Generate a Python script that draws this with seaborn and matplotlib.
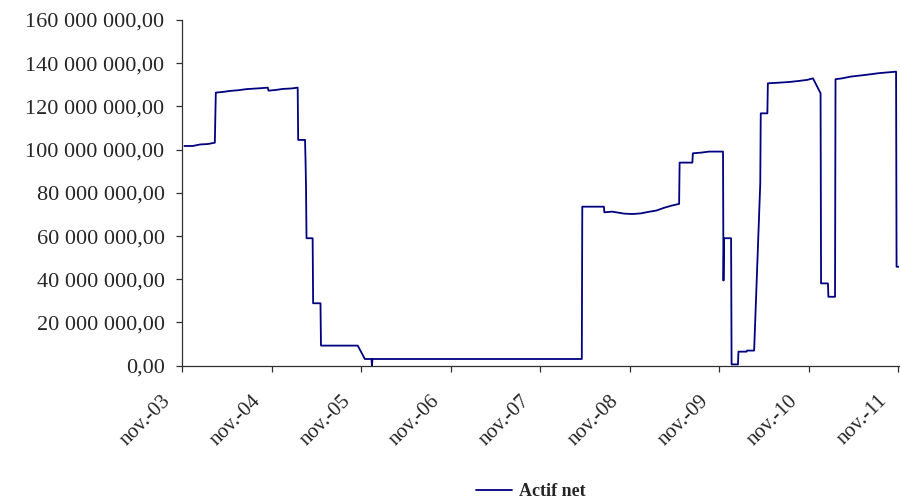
import pandas as pd
import numpy as np
import matplotlib
matplotlib.use("Agg")
import matplotlib.pyplot as plt
import matplotlib.transforms as mtransforms
from matplotlib.ticker import FuncFormatter, MultipleLocator
import seaborn as sns

# -- data (net asset value, millions of euros)
dates = [
    "2003-11-11", "2003-12-15", "2004-01-14", "2004-02-14", "2004-03-14",
    "2004-03-18", "2004-04-15", "2004-05-17", "2004-06-18", "2004-07-20",
    "2004-09-12", "2004-10-16", "2004-10-19", "2004-11-16", "2004-12-16",
    "2005-01-19", "2005-02-15", "2005-02-17", "2005-03-17", "2005-03-19",
    "2005-03-21", "2005-03-23", "2005-04-17", "2005-04-19", "2005-05-19",
    "2005-05-21", "2005-10-18", "2005-11-16", "2005-12-13", "2005-12-15",
    "2005-12-17", "2008-04-19", "2008-04-21", "2008-07-18", "2008-07-20",
    "2008-08-21", "2008-10-08", "2008-11-11", "2008-12-16", "2009-01-16",
    "2009-02-17", "2009-03-21", "2009-04-21", "2009-05-21", "2009-05-23",
    "2009-07-14", "2009-07-16", "2009-08-17", "2009-09-20", "2009-11-16",
    "2009-11-18", "2009-11-20", "2009-12-19", "2009-12-21", "2010-01-16",
    "2010-01-18", "2010-02-20", "2010-02-22", "2010-03-23", "2010-04-17",
    "2010-04-19", "2010-05-16", "2010-05-18", "2010-06-19", "2010-08-12",
    "2010-09-22", "2010-10-26", "2010-11-18", "2010-12-19", "2010-12-21",
    "2011-01-18", "2011-01-20", "2011-02-16", "2011-02-18", "2011-03-17",
    "2011-04-21", "2011-06-21", "2011-08-14", "2011-10-23", "2011-10-25",
    "2011-11-03",
]
actif_net_millions = [
    101.7, 101.7, 102.4, 102.6, 103.2,
    126.4, 126.7, 127.2, 127.5, 128.0,
    128.4, 128.7, 127.3, 127.6, 128.1,
    128.3, 128.7, 104.5, 104.5, 95.2,
    82.9, 59.0, 59.0, 28.9, 28.9,
    9.3, 9.3, 3.1, 3.1, 0.1,
    3.1, 3.1, 73.6, 73.6, 71.0,
    71.3, 70.4, 70.2, 70.5, 71.2,
    71.8, 73.1, 74.1, 74.9, 94.0,
    94.0, 98.3, 98.6, 99.1, 99.1,
    39.4, 59.0, 59.0, 0.6, 0.6,
    6.5, 6.5, 7.0, 7.0, 84.4,
    116.8, 116.8, 130.7, 130.9, 131.3,
    131.8, 132.3, 133.0, 126.1, 38.1,
    38.1, 31.9, 31.9, 132.6, 133.0,
    133.8, 134.6, 135.4, 136.1, 45.8,
    45.8,
]
series_label = "Actif net"
tick_years = list(range(2003, 2012))

df = pd.DataFrame({
    "date": pd.to_datetime(dates),
    "actif": np.array(actif_net_millions) * 1e6,
})

sns.set_style("white")
plt.rcParams["font.family"] = ["Liberation Serif", "DejaVu Serif"]

fig = plt.figure(figsize=(9, 5.04), dpi=100)
ax = fig.add_axes([0.2022, 0.2744, 0.7967, 0.6859])

sns.lineplot(data=df, x="date", y="actif", ax=ax, color="#000080",
             linewidth=1.3, estimator=None, sort=False, legend=False)

ax.set_ylim(0, 160e6)
ax.yaxis.set_major_locator(MultipleLocator(20e6))
ax.yaxis.set_major_formatter(FuncFormatter(
    lambda v, p: f"{v:,.2f}".replace(",", " ").replace(".", ",")))

ax.set_xlim(pd.Timestamp("2003-11-01"), pd.Timestamp("2011-11-04"))
tick_dates = [pd.Timestamp(f"{y}-11-01") for y in tick_years]
ax.set_xticks(tick_dates)
ax.set_xticklabels([f"nov.-{str(y)[2:]}" for y in tick_years])

ax.set_xlabel("")
ax.set_ylabel("")
sns.despine(ax=ax)
for side in ["left", "bottom"]:
    ax.spines[side].set_color("#303030")
    ax.spines[side].set_linewidth(0.9)

ax.tick_params(axis="y", direction="out", length=4.5, width=0.9,
               color="#303030", labelsize=16, pad=8, left=True)
ax.tick_params(axis="x", direction="out", length=4.5, width=0.9,
               color="#303030", labelsize=15, pad=14, bottom=True)

offset = mtransforms.ScaledTranslation(-5 / 72, 0, fig.dpi_scale_trans)
for lbl in ax.get_xticklabels():
    lbl.set_rotation(45)
    lbl.set_ha("right")
    lbl.set_transform(lbl.get_transform() + offset)

handle = plt.Line2D([], [], color="#000080", linewidth=1.3)
fig.legend([handle], [series_label], loc="center",
           bbox_to_anchor=(0.59, 0.024), frameon=False,
           handlelength=2.0, handletextpad=0.4,
           prop={"family": "Liberation Serif", "weight": "bold", "size": 13})

fig.savefig("out.png", dpi=100)
